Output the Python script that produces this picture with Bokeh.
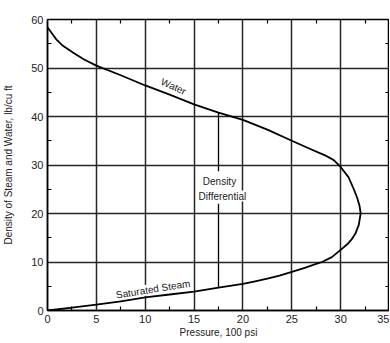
from bokeh.plotting import figure
from bokeh.models import Range1d, LinearAxis, Label, FixedTicker, CustomJSTickFormatter
from bokeh.embed import file_html
from bokeh.resources import INLINE

# Water branch (pressure in 100 psi, density lb/cu ft), up to critical point
water_p = [0, 0.5, 0.9, 1.5, 2.6, 3.7, 5, 7.5, 10, 12.5, 15, 17.5, 20, 22.5, 25, 26.9, 28.4, 29.3, 30, 30.8, 31.35, 31.7, 31.93, 32.05]
water_d = [58.4, 57.0, 55.9, 54.7, 53.2, 51.8, 50.5, 48.5, 46.4, 44.5, 42.5, 40.8, 39.3, 37.3, 35.0, 33.3, 32.0, 31.0, 29.6, 27.5, 25.0, 23.2, 21.6, 20.0]
# Saturated steam branch, from 0 up to critical point
steam_p = [0, 2.5, 5, 7.5, 10, 12.5, 15, 17.5, 20, 21.25, 22.5, 23.75, 25, 26.25, 27.5, 28.1, 29.1, 30, 30.7, 31.1, 31.5, 31.85, 32.05]
steam_d = [0.0, 0.6, 1.2, 1.9, 2.7, 3.3, 3.9, 4.7, 5.5, 6.0, 6.55, 7.2, 7.95, 8.75, 9.6, 10.0, 11.0, 12.5, 13.7, 14.6, 15.8, 17.6, 20.0]

x_ticks = [0, 5, 10, 15, 20, 25, 30, 35]
x_minor = [2.5, 7.5, 12.5, 17.5, 22.5, 27.5, 32.5]
y_ticks = [0, 10, 20, 30, 40, 50, 60]
y_minor = [5, 15, 25, 35, 45, 55]

# Density differential marker
diff_x = 17.5
diff_upper = [40.8, 28.7]
diff_lower = [22.0, 4.7]

FONT = "Liberation Sans"

p = figure(width=389, height=341, x_range=Range1d(0, 35), y_range=Range1d(0, 60),
           output_backend="svg", toolbar_location=None,
           min_border_left=46, min_border_right=0, min_border_top=19, min_border_bottom=31)
p.outline_line_color = "black"
p.outline_line_width = 1.5
p.background_fill_color = "white"
p.border_fill_color = "white"

for ax, tk, mn in ((p.xaxis[0], x_ticks, x_minor), (p.yaxis[0], y_ticks, y_minor)):
    ax.ticker = FixedTicker(ticks=tk, minor_ticks=mn)
    ax.major_tick_in = 0
    ax.major_tick_out = 0
    ax.minor_tick_in = 4
    ax.minor_tick_out = 0
    ax.axis_line_color = "black"
    ax.axis_line_width = 1.5
    ax.minor_tick_line_color = "black"
    ax.minor_tick_line_width = 1.2
    ax.major_label_text_font = FONT
    ax.major_label_text_font_size = "11px"
    ax.major_label_text_color = "#222222"
    ax.major_label_standoff = 4
    ax.axis_label_text_font = FONT
    ax.axis_label_text_font_size = "10px"
    ax.axis_label_text_font_style = "normal"
    ax.axis_label_text_color = "#222222"

p.xaxis.axis_label = "Pressure, 100 psi"
p.xaxis.axis_label_standoff = 1
p.yaxis.axis_label = "Density of Steam and Water, lb/cu ft"
p.yaxis.axis_label_standoff = 14

blank = CustomJSTickFormatter(code="return ''")
top = LinearAxis(ticker=FixedTicker(ticks=x_ticks, minor_ticks=x_minor), formatter=blank,
                 major_tick_in=0, major_tick_out=0, minor_tick_in=4, minor_tick_out=0,
                 minor_tick_line_color="black", minor_tick_line_width=1.2,
                 major_label_standoff=0, major_label_text_font_size="0px",
                 axis_line_color="black")
right = LinearAxis(ticker=FixedTicker(ticks=y_ticks, minor_ticks=y_minor), formatter=blank,
                   major_tick_in=0, major_tick_out=0, minor_tick_in=4, minor_tick_out=0,
                   minor_tick_line_color="black", minor_tick_line_width=1.2,
                   major_label_standoff=0, major_label_text_font_size="0px",
                   axis_line_color="black")
p.add_layout(top, "above")
p.add_layout(right, "right")

p.xgrid.ticker = FixedTicker(ticks=x_ticks)
p.ygrid.ticker = FixedTicker(ticks=y_ticks)
for g in (p.xgrid[0], p.ygrid[0]):
    g.grid_line_color = "#262626"
    g.grid_line_width = 1.5
    g.grid_line_alpha = 1.0

curve_x = water_p + steam_p[::-1]
curve_y = water_d + steam_d[::-1]
p.line(curve_x, curve_y, line_color="black", line_width=1.8, line_join="round")

p.line([diff_x, diff_x], diff_upper, line_color="black", line_width=1.3)
p.line([diff_x, diff_x], diff_lower, line_color="black", line_width=1.3)

p.add_layout(Label(x=12.9, y=46.2, text="Water", angle=-0.42, text_align="center",
                   text_baseline="middle", text_font=FONT, text_font_size="10px",
                   text_color="#222222"))
p.add_layout(Label(x=10.8, y=4.4, text="Saturated Steam", angle=0.16, text_align="center",
                   text_baseline="middle", text_font=FONT, text_font_size="10px",
                   text_color="#222222", background_fill_color="white"))
p.add_layout(Label(x=17.6, y=26.6, text="Density", text_align="center",
                   text_baseline="middle", text_font=FONT, text_font_size="10px",
                   text_color="#222222", background_fill_color="white"))
p.add_layout(Label(x=17.9, y=23.6, text="Differential", text_align="center",
                   text_baseline="middle", text_font=FONT, text_font_size="10px",
                   text_color="#222222", background_fill_color="white"))

open("out.html", "w").write(file_html(p, INLINE))
